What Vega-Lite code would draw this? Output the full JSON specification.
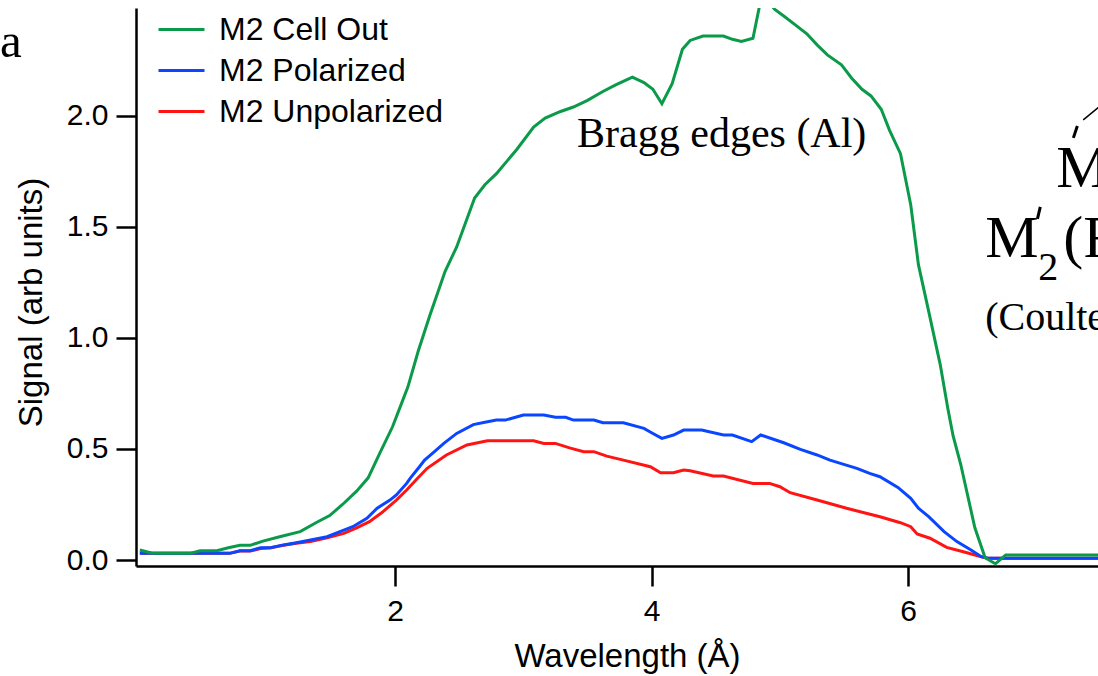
{
  "$schema": "https://vega.github.io/schema/vega-lite/v6.json",
  "width": 962,
  "height": 558,
  "autosize": {"type": "none"},
  "padding": {"left": 136, "top": 8, "right": 0, "bottom": 110},
  "background": "white",
  "config": {
    "view": {"stroke": null},
    "axis": {
      "domainColor": "black", "domainWidth": 2.5, "tickColor": "black", "tickWidth": 2.5, "tickSize": 20,
      "labelColor": "black", "labelFont": "Liberation Sans", "labelFontSize": 30,
      "titleFont": "Liberation Sans", "titleFontSize": 33, "titleFontWeight": "normal", "titleColor": "black",
      "grid": false
    },
    "legend": {
      "orient": "none", "legendX": 21, "legendY": -3, "padding": 0,
      "symbolType": "stroke", "symbolSize": 2116, "symbolStrokeWidth": 3,
      "labelFont": "Liberation Sans", "labelFontSize": 32, "labelColor": "black", "labelOffset": 13, "labelLimit": 0,
      "rowPadding": 0, "title": null
    }
  },
  "layer": [
    {
      "data": {"values": [
        {"series":"M2 Unpolarized","wavelength":0.01,"signal":0.03},{"series":"M2 Unpolarized","wavelength":0.2,"signal":0.03},{"series":"M2 Unpolarized","wavelength":0.4,"signal":0.03},{"series":"M2 Unpolarized","wavelength":0.55,"signal":0.03},{"series":"M2 Unpolarized","wavelength":0.71,"signal":0.03},{"series":"M2 Unpolarized","wavelength":0.79,"signal":0.04},{"series":"M2 Unpolarized","wavelength":0.87,"signal":0.04},{"series":"M2 Unpolarized","wavelength":0.95,"signal":0.052},{"series":"M2 Unpolarized","wavelength":1.03,"signal":0.055},{"series":"M2 Unpolarized","wavelength":1.13,"signal":0.066},{"series":"M2 Unpolarized","wavelength":1.23,"signal":0.075},{"series":"M2 Unpolarized","wavelength":1.34,"signal":0.083},{"series":"M2 Unpolarized","wavelength":1.47,"signal":0.1},{"series":"M2 Unpolarized","wavelength":1.6,"signal":0.12},{"series":"M2 Unpolarized","wavelength":1.7,"signal":0.145},{"series":"M2 Unpolarized","wavelength":1.8,"signal":0.173},{"series":"M2 Unpolarized","wavelength":1.9,"signal":0.215},{"series":"M2 Unpolarized","wavelength":2.01,"signal":0.27},{"series":"M2 Unpolarized","wavelength":2.09,"signal":0.315},{"series":"M2 Unpolarized","wavelength":2.17,"signal":0.365},{"series":"M2 Unpolarized","wavelength":2.25,"signal":0.413},{"series":"M2 Unpolarized","wavelength":2.4,"signal":0.473},{"series":"M2 Unpolarized","wavelength":2.56,"signal":0.518},{"series":"M2 Unpolarized","wavelength":2.72,"signal":0.537},{"series":"M2 Unpolarized","wavelength":2.9,"signal":0.537},{"series":"M2 Unpolarized","wavelength":3.08,"signal":0.537},{"series":"M2 Unpolarized","wavelength":3.16,"signal":0.525},{"series":"M2 Unpolarized","wavelength":3.25,"signal":0.525},{"series":"M2 Unpolarized","wavelength":3.36,"signal":0.505},{"series":"M2 Unpolarized","wavelength":3.47,"signal":0.488},{"series":"M2 Unpolarized","wavelength":3.55,"signal":0.488},{"series":"M2 Unpolarized","wavelength":3.65,"signal":0.468},{"series":"M2 Unpolarized","wavelength":3.78,"signal":0.45},{"series":"M2 Unpolarized","wavelength":3.99,"signal":0.42},{"series":"M2 Unpolarized","wavelength":4.07,"signal":0.393},{"series":"M2 Unpolarized","wavelength":4.17,"signal":0.393},{"series":"M2 Unpolarized","wavelength":4.25,"signal":0.405},{"series":"M2 Unpolarized","wavelength":4.3,"signal":0.402},{"series":"M2 Unpolarized","wavelength":4.48,"signal":0.378},{"series":"M2 Unpolarized","wavelength":4.56,"signal":0.378},{"series":"M2 Unpolarized","wavelength":4.79,"signal":0.345},{"series":"M2 Unpolarized","wavelength":4.92,"signal":0.345},{"series":"M2 Unpolarized","wavelength":5.0,"signal":0.33},{"series":"M2 Unpolarized","wavelength":5.08,"signal":0.303},{"series":"M2 Unpolarized","wavelength":5.29,"signal":0.27},{"series":"M2 Unpolarized","wavelength":5.52,"signal":0.233},{"series":"M2 Unpolarized","wavelength":5.78,"signal":0.195},{"series":"M2 Unpolarized","wavelength":5.94,"signal":0.168},{"series":"M2 Unpolarized","wavelength":6.02,"signal":0.15},{"series":"M2 Unpolarized","wavelength":6.07,"signal":0.117},{"series":"M2 Unpolarized","wavelength":6.17,"signal":0.098},{"series":"M2 Unpolarized","wavelength":6.3,"signal":0.057},{"series":"M2 Unpolarized","wavelength":6.43,"signal":0.037},{"series":"M2 Unpolarized","wavelength":6.57,"signal":0.015},{"series":"M2 Unpolarized","wavelength":6.62,"signal":0.008},{"series":"M2 Unpolarized","wavelength":7.0,"signal":0.008},{"series":"M2 Unpolarized","wavelength":7.5,"signal":0.008},
        {"series":"M2 Polarized","wavelength":0.01,"signal":0.03},{"series":"M2 Polarized","wavelength":0.2,"signal":0.03},{"series":"M2 Polarized","wavelength":0.4,"signal":0.03},{"series":"M2 Polarized","wavelength":0.55,"signal":0.03},{"series":"M2 Polarized","wavelength":0.71,"signal":0.03},{"series":"M2 Polarized","wavelength":0.79,"signal":0.042},{"series":"M2 Polarized","wavelength":0.87,"signal":0.042},{"series":"M2 Polarized","wavelength":0.95,"signal":0.055},{"series":"M2 Polarized","wavelength":1.03,"signal":0.055},{"series":"M2 Polarized","wavelength":1.13,"signal":0.068},{"series":"M2 Polarized","wavelength":1.23,"signal":0.078},{"series":"M2 Polarized","wavelength":1.34,"signal":0.09},{"series":"M2 Polarized","wavelength":1.47,"signal":0.105},{"series":"M2 Polarized","wavelength":1.57,"signal":0.128},{"series":"M2 Polarized","wavelength":1.67,"signal":0.15},{"series":"M2 Polarized","wavelength":1.78,"signal":0.188},{"series":"M2 Polarized","wavelength":1.86,"signal":0.233},{"series":"M2 Polarized","wavelength":1.96,"signal":0.27},{"series":"M2 Polarized","wavelength":2.01,"signal":0.293},{"series":"M2 Polarized","wavelength":2.09,"signal":0.345},{"series":"M2 Polarized","wavelength":2.12,"signal":0.37},{"series":"M2 Polarized","wavelength":2.19,"signal":0.42},{"series":"M2 Polarized","wavelength":2.23,"signal":0.45},{"series":"M2 Polarized","wavelength":2.3,"signal":0.485},{"series":"M2 Polarized","wavelength":2.38,"signal":0.525},{"series":"M2 Polarized","wavelength":2.48,"signal":0.57},{"series":"M2 Polarized","wavelength":2.61,"signal":0.61},{"series":"M2 Polarized","wavelength":2.7,"signal":0.62},{"series":"M2 Polarized","wavelength":2.79,"signal":0.63},{"series":"M2 Polarized","wavelength":2.86,"signal":0.63},{"series":"M2 Polarized","wavelength":3.0,"signal":0.653},{"series":"M2 Polarized","wavelength":3.16,"signal":0.653},{"series":"M2 Polarized","wavelength":3.25,"signal":0.643},{"series":"M2 Polarized","wavelength":3.33,"signal":0.643},{"series":"M2 Polarized","wavelength":3.39,"signal":0.63},{"series":"M2 Polarized","wavelength":3.55,"signal":0.63},{"series":"M2 Polarized","wavelength":3.62,"signal":0.618},{"series":"M2 Polarized","wavelength":3.78,"signal":0.618},{"series":"M2 Polarized","wavelength":3.94,"signal":0.593},{"series":"M2 Polarized","wavelength":4.01,"signal":0.57},{"series":"M2 Polarized","wavelength":4.08,"signal":0.548},{"series":"M2 Polarized","wavelength":4.17,"signal":0.563},{"series":"M2 Polarized","wavelength":4.25,"signal":0.585},{"series":"M2 Polarized","wavelength":4.39,"signal":0.585},{"series":"M2 Polarized","wavelength":4.56,"signal":0.563},{"series":"M2 Polarized","wavelength":4.63,"signal":0.563},{"series":"M2 Polarized","wavelength":4.78,"signal":0.533},{"series":"M2 Polarized","wavelength":4.85,"signal":0.563},{"series":"M2 Polarized","wavelength":5.03,"signal":0.528},{"series":"M2 Polarized","wavelength":5.16,"signal":0.498},{"series":"M2 Polarized","wavelength":5.29,"signal":0.473},{"series":"M2 Polarized","wavelength":5.39,"signal":0.45},{"series":"M2 Polarized","wavelength":5.6,"signal":0.413},{"series":"M2 Polarized","wavelength":5.7,"signal":0.39},{"series":"M2 Polarized","wavelength":5.78,"signal":0.375},{"series":"M2 Polarized","wavelength":5.92,"signal":0.327},{"series":"M2 Polarized","wavelength":6.02,"signal":0.278},{"series":"M2 Polarized","wavelength":6.08,"signal":0.233},{"series":"M2 Polarized","wavelength":6.16,"signal":0.195},{"series":"M2 Polarized","wavelength":6.28,"signal":0.128},{"series":"M2 Polarized","wavelength":6.38,"signal":0.083},{"series":"M2 Polarized","wavelength":6.49,"signal":0.045},{"series":"M2 Polarized","wavelength":6.57,"signal":0.015},{"series":"M2 Polarized","wavelength":6.62,"signal":0.008},{"series":"M2 Polarized","wavelength":7.0,"signal":0.008},{"series":"M2 Polarized","wavelength":7.5,"signal":0.008},
        {"series":"M2 Cell Out","wavelength":0.01,"signal":0.045},{"series":"M2 Cell Out","wavelength":0.1,"signal":0.032},{"series":"M2 Cell Out","wavelength":0.2,"signal":0.03},{"series":"M2 Cell Out","wavelength":0.3,"signal":0.03},{"series":"M2 Cell Out","wavelength":0.4,"signal":0.03},{"series":"M2 Cell Out","wavelength":0.48,"signal":0.042},{"series":"M2 Cell Out","wavelength":0.61,"signal":0.042},{"series":"M2 Cell Out","wavelength":0.7,"signal":0.055},{"series":"M2 Cell Out","wavelength":0.79,"signal":0.066},{"series":"M2 Cell Out","wavelength":0.87,"signal":0.066},{"series":"M2 Cell Out","wavelength":0.97,"signal":0.085},{"series":"M2 Cell Out","wavelength":1.1,"signal":0.105},{"series":"M2 Cell Out","wavelength":1.26,"signal":0.128},{"series":"M2 Cell Out","wavelength":1.39,"signal":0.17},{"series":"M2 Cell Out","wavelength":1.49,"signal":0.2},{"series":"M2 Cell Out","wavelength":1.59,"signal":0.25},{"series":"M2 Cell Out","wavelength":1.7,"signal":0.31},{"series":"M2 Cell Out","wavelength":1.79,"signal":0.37},{"series":"M2 Cell Out","wavelength":1.88,"signal":0.48},{"series":"M2 Cell Out","wavelength":1.98,"signal":0.6},{"series":"M2 Cell Out","wavelength":2.06,"signal":0.72},{"series":"M2 Cell Out","wavelength":2.1,"signal":0.78},{"series":"M2 Cell Out","wavelength":2.18,"signal":0.94},{"series":"M2 Cell Out","wavelength":2.27,"signal":1.1},{"series":"M2 Cell Out","wavelength":2.39,"signal":1.3},{"series":"M2 Cell Out","wavelength":2.48,"signal":1.41},{"series":"M2 Cell Out","wavelength":2.62,"signal":1.63},{"series":"M2 Cell Out","wavelength":2.7,"signal":1.69},{"series":"M2 Cell Out","wavelength":2.79,"signal":1.74},{"series":"M2 Cell Out","wavelength":2.95,"signal":1.85},{"series":"M2 Cell Out","wavelength":3.08,"signal":1.95},{"series":"M2 Cell Out","wavelength":3.17,"signal":1.99},{"series":"M2 Cell Out","wavelength":3.29,"signal":2.02},{"series":"M2 Cell Out","wavelength":3.39,"signal":2.04},{"series":"M2 Cell Out","wavelength":3.5,"signal":2.07},{"series":"M2 Cell Out","wavelength":3.62,"signal":2.11},{"series":"M2 Cell Out","wavelength":3.72,"signal":2.14},{"series":"M2 Cell Out","wavelength":3.85,"signal":2.175},{"series":"M2 Cell Out","wavelength":3.94,"signal":2.15},{"series":"M2 Cell Out","wavelength":4.01,"signal":2.12},{"series":"M2 Cell Out","wavelength":4.08,"signal":2.055},{"series":"M2 Cell Out","wavelength":4.16,"signal":2.145},{"series":"M2 Cell Out","wavelength":4.24,"signal":2.3},{"series":"M2 Cell Out","wavelength":4.3,"signal":2.34},{"series":"M2 Cell Out","wavelength":4.4,"signal":2.36},{"series":"M2 Cell Out","wavelength":4.48,"signal":2.36},{"series":"M2 Cell Out","wavelength":4.56,"signal":2.36},{"series":"M2 Cell Out","wavelength":4.63,"signal":2.345},{"series":"M2 Cell Out","wavelength":4.7,"signal":2.335},{"series":"M2 Cell Out","wavelength":4.79,"signal":2.35},{"series":"M2 Cell Out","wavelength":4.85,"signal":2.52},{"series":"M2 Cell Out","wavelength":4.9,"signal":2.52},{"series":"M2 Cell Out","wavelength":4.96,"signal":2.48},{"series":"M2 Cell Out","wavelength":5.03,"signal":2.45},{"series":"M2 Cell Out","wavelength":5.12,"signal":2.41},{"series":"M2 Cell Out","wavelength":5.21,"signal":2.37},{"series":"M2 Cell Out","wavelength":5.29,"signal":2.32},{"series":"M2 Cell Out","wavelength":5.37,"signal":2.275},{"series":"M2 Cell Out","wavelength":5.48,"signal":2.23},{"series":"M2 Cell Out","wavelength":5.56,"signal":2.17},{"series":"M2 Cell Out","wavelength":5.64,"signal":2.12},{"series":"M2 Cell Out","wavelength":5.71,"signal":2.09},{"series":"M2 Cell Out","wavelength":5.79,"signal":2.03},{"series":"M2 Cell Out","wavelength":5.855,"signal":1.935},{"series":"M2 Cell Out","wavelength":5.94,"signal":1.83},{"series":"M2 Cell Out","wavelength":6.02,"signal":1.6},{"series":"M2 Cell Out","wavelength":6.08,"signal":1.33},{"series":"M2 Cell Out","wavelength":6.16,"signal":1.12},{"series":"M2 Cell Out","wavelength":6.25,"signal":0.88},{"series":"M2 Cell Out","wavelength":6.31,"signal":0.68},{"series":"M2 Cell Out","wavelength":6.35,"signal":0.56},{"series":"M2 Cell Out","wavelength":6.41,"signal":0.43},{"series":"M2 Cell Out","wavelength":6.52,"signal":0.145},{"series":"M2 Cell Out","wavelength":6.6,"signal":0.01},{"series":"M2 Cell Out","wavelength":6.68,"signal":-0.017},{"series":"M2 Cell Out","wavelength":6.76,"signal":0.022},{"series":"M2 Cell Out","wavelength":7.0,"signal":0.022},{"series":"M2 Cell Out","wavelength":7.25,"signal":0.022},{"series":"M2 Cell Out","wavelength":7.5,"signal":0.022}
      ]},
      "mark": {"type": "line", "strokeWidth": 3, "clip": true},
      "encoding": {
        "x": {"field": "wavelength", "type": "quantitative",
              "scale": {"domain": [-0.02, 7.48], "nice": false, "zero": false},
              "axis": {"title": "Wavelength (Å)", "values": [2, 4, 6], "format": "d", "labelPadding": 10, "titlePadding": 14, "titleX": 491}},
        "y": {"field": "signal", "type": "quantitative",
              "scale": {"domain": [-0.027, 2.486], "nice": false, "zero": false},
              "axis": {"title": "Signal (arb units)", "values": [0, 0.5, 1, 1.5, 2], "format": ".1f", "labelPadding": 8, "titlePadding": 18, "titleY": 294}},
        "color": {"field": "series", "type": "nominal",
                  "scale": {"domain": ["M2 Cell Out", "M2 Polarized", "M2 Unpolarized"], "range": ["#0b9a4a", "#0a46ff", "#ff1414"]},
                  "legend": {}},
        "order": {"field": "wavelength", "type": "quantitative"}
      }
    },
    {
      "data": {"values": [{"label": "a", "wavelength": -1.08, "signal": 2.266}]},
      "mark": {"type": "text", "font": "Liberation Serif", "fontSize": 49, "align": "left", "baseline": "alphabetic", "color": "black"},
      "encoding": {
        "x": {"field": "wavelength", "type": "quantitative", "scale": {"domain": [-0.02, 7.48], "nice": false, "zero": false}},
        "y": {"field": "signal", "type": "quantitative", "scale": {"domain": [-0.027, 2.486], "nice": false, "zero": false}},
        "text": {"field": "label"}
      }
    },
    {
      "data": {"values": [{"label": "Bragg edges (Al)", "wavelength": 3.419, "signal": 1.86}]},
      "mark": {"type": "text", "font": "Liberation Serif", "fontSize": 42, "align": "left", "baseline": "alphabetic", "color": "black"},
      "encoding": {
        "x": {"field": "wavelength", "type": "quantitative", "scale": {"domain": [-0.02, 7.48], "nice": false, "zero": false}},
        "y": {"field": "signal", "type": "quantitative", "scale": {"domain": [-0.027, 2.486], "nice": false, "zero": false}},
        "text": {"field": "label"}
      }
    },
    {
      "data": {"values": [
        {"label": "M", "wavelength": 7.154, "signal": 1.68},
        {"label": "M", "wavelength": 6.6, "signal": 1.365},
        {"label": "(F", "wavelength": 7.209, "signal": 1.365}
      ]},
      "mark": {"type": "text", "font": "Liberation Serif", "fontSize": 60, "align": "left", "baseline": "alphabetic", "color": "black"},
      "encoding": {
        "x": {"field": "wavelength", "type": "quantitative", "scale": {"domain": [-0.02, 7.48], "nice": false, "zero": false}},
        "y": {"field": "signal", "type": "quantitative", "scale": {"domain": [-0.027, 2.486], "nice": false, "zero": false}},
        "text": {"field": "label"}
      }
    },
    {
      "data": {"values": [
        {"label": "2", "wavelength": 7.014, "signal": 1.261},
        {"label": "(Coulter", "wavelength": 6.6, "signal": 1.036}
      ]},
      "mark": {"type": "text", "font": "Liberation Serif", "fontSize": 40, "align": "left", "baseline": "alphabetic", "color": "black"},
      "encoding": {
        "x": {"field": "wavelength", "type": "quantitative", "scale": {"domain": [-0.02, 7.48], "nice": false, "zero": false}},
        "y": {"field": "signal", "type": "quantitative", "scale": {"domain": [-0.027, 2.486], "nice": false, "zero": false}},
        "text": {"field": "label"}
      }
    },
    {
      "data": {"values": [
        {"wavelength": 7.288, "signal": 1.901, "wavelength2": 7.319, "signal2": 1.955},
        {"wavelength": 7.008, "signal": 1.536, "wavelength2": 7.03, "signal2": 1.59}
      ]},
      "mark": {"type": "rule", "strokeWidth": 3, "color": "black"},
      "encoding": {
        "x": {"field": "wavelength", "type": "quantitative", "scale": {"domain": [-0.02, 7.48], "nice": false, "zero": false}},
        "y": {"field": "signal", "type": "quantitative", "scale": {"domain": [-0.027, 2.486], "nice": false, "zero": false}},
        "x2": {"field": "wavelength2"},
        "y2": {"field": "signal2"}
      }
    },
    {
      "data": {"values": [
        {"wavelength": 7.365, "signal": 1.982, "wavelength2": 7.536, "signal2": 2.063}
      ]},
      "mark": {"type": "rule", "strokeWidth": 1.5, "color": "black"},
      "encoding": {
        "x": {"field": "wavelength", "type": "quantitative", "scale": {"domain": [-0.02, 7.48], "nice": false, "zero": false}},
        "y": {"field": "signal", "type": "quantitative", "scale": {"domain": [-0.027, 2.486], "nice": false, "zero": false}},
        "x2": {"field": "wavelength2"},
        "y2": {"field": "signal2"}
      }
    }
  ]
}
